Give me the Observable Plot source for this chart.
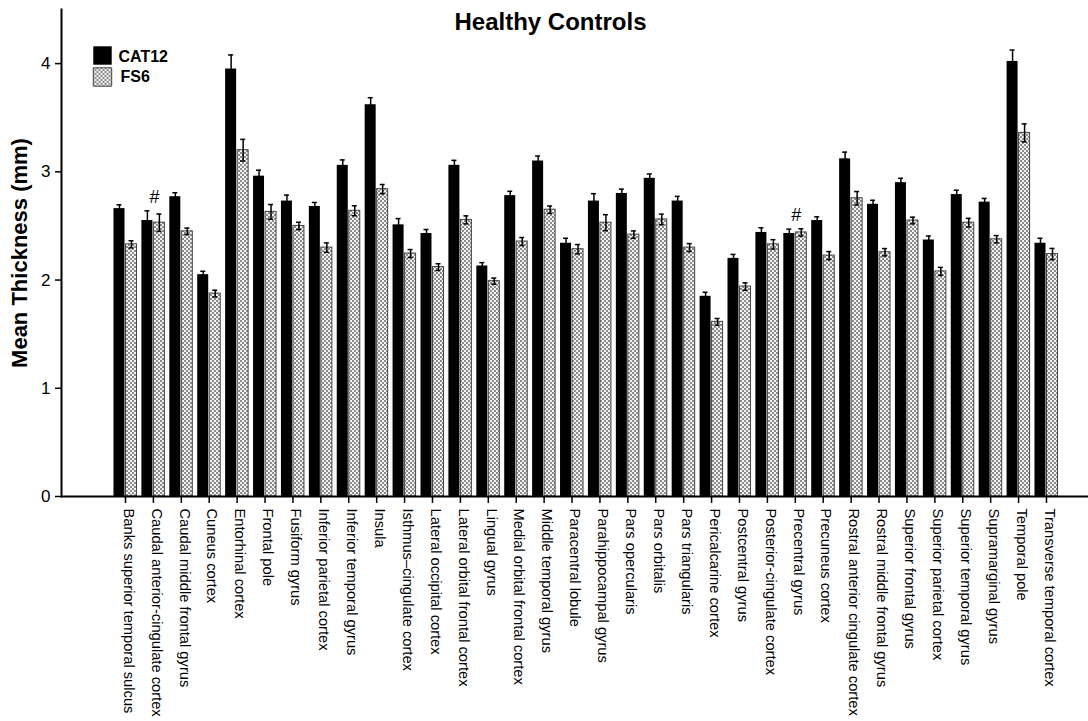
<!DOCTYPE html>
<html>
<head>
<meta charset="utf-8">
<script src="https://cdn.jsdelivr.net/npm/d3@7"></script>
<script src="https://cdn.jsdelivr.net/npm/@observablehq/plot@0.6"></script>
<style>
  html, body { margin: 0; padding: 0; background: #fff; }
  #chart { width: 1088px; height: 721px; }
</style>
</head>
<body>
<div id="chart"></div>
<script>
const regions = [
  "Banks superior temporal sulcus", "Caudal anterior-cingulate cortex", "Caudal middle frontal gyrus",
  "Cuneus cortex", "Entorhinal cortex", "Frontal pole", "Fusiform gyrus", "Inferior parietal cortex",
  "Inferior temporal gyrus", "Insula", "Isthmus–cingulate cortex", "Lateral occipital cortex",
  "Lateral orbital frontal cortex", "Lingual gyrus", "Medial orbital frontal cortex", "Middle temporal gyrus",
  "Paracentral lobule", "Parahippocampal gyrus", "Pars opercularis", "Pars orbitalis", "Pars triangularis",
  "Pericalcarine cortex", "Postcentral gyrus", "Posterior-cingulate cortex", "Precentral gyrus",
  "Precuneus cortex", "Rostral anterior cingulate cortex", "Rostral middle frontal gyrus",
  "Superior frontal gyrus", "Superior parietal cortex", "Superior temporal gyrus", "Supramarginal gyrus",
  "Temporal pole", "Transverse temporal cortex"
];
const cat12 = [2.66, 2.55, 2.77, 2.05, 3.95, 2.96, 2.73, 2.68, 3.06, 3.62, 2.51, 2.43, 3.06, 2.13, 2.78, 3.10, 2.34,
  2.73, 2.80, 2.94, 2.73, 1.85, 2.20, 2.44, 2.43, 2.55, 3.12, 2.70, 2.90, 2.37, 2.79, 2.72, 4.02, 2.34];
const cat12Err = [0.035, 0.09, 0.037, 0.031, 0.13, 0.055, 0.055, 0.037, 0.05, 0.065, 0.058, 0.037, 0.046, 0.031, 0.04,
  0.046, 0.046, 0.068, 0.04, 0.04, 0.043, 0.037, 0.037, 0.043, 0.04, 0.034, 0.062, 0.037, 0.04, 0.037, 0.04, 0.034, 0.105, 0.046];
const fs6 = [2.33, 2.53, 2.45, 1.875, 3.2, 2.63, 2.50, 2.30, 2.64, 2.84, 2.245, 2.12, 2.556, 1.99, 2.356, 2.65, 2.285,
  2.53, 2.42, 2.56, 2.30, 1.614, 1.94, 2.33, 2.44, 2.226, 2.756, 2.257, 2.55, 2.08, 2.53, 2.377, 3.36, 2.24];
const fs6Err = [0.033, 0.08, 0.03, 0.031, 0.1, 0.068, 0.034, 0.043, 0.046, 0.043, 0.037, 0.031, 0.037, 0.028, 0.037,
  0.034, 0.043, 0.074, 0.034, 0.049, 0.037, 0.031, 0.034, 0.043, 0.034, 0.037, 0.062, 0.034, 0.031, 0.037, 0.04, 0.034, 0.083, 0.052];
const markedRegions = ["Caudal anterior-cingulate cortex", "Precentral gyrus"];
const seriesNames = ["CAT12", "FS6"];
const yTicks = [0, 1, 2, 3, 4];
const titleText = "Healthy Controls";
const yLabel = "Mean Thickness (mm)";

const FONT = "'Liberation Sans', Arial, Helvetica, sans-serif";
const catData = regions.map((r, i) => ({region: r, v: cat12[i], e: cat12Err[i]}));
const fsData = regions.map((r, i) => ({region: r, v: fs6[i], e: fs6Err[i]}));
const markData = markedRegions.map(r => {
  const i = regions.indexOf(r);
  return {region: r, top: Math.max(cat12[i] + cat12Err[i], fs6[i] + fs6Err[i])};
});

function build(bw) {
  const half = bw / 2;
  const cap = 2.5;
  return Plot.plot({
    width: 1088, height: 721,
    marginTop: 9, marginBottom: 225, marginLeft: 61, marginRight: 0,
    style: {fontFamily: FONT, background: "#fff", color: "#000", overflow: "visible"},
    x: {domain: regions, paddingInner: 0.14, paddingOuter: 1.469, align: 0.634, axis: null},
    y: {domain: [0, 4.5], axis: null},
    marks: [
      Plot.barY(catData, {x: "region", y1: 0, y2: "v", fill: "#000", insetLeft: 0.5, insetRight: half + 0.5}),
      Plot.barY(fsData, {x: "region", y1: 0, y2: "v", fill: "url(#checker)", stroke: "#444", strokeWidth: 1,
        insetLeft: half + 0.5, insetRight: 0.5}),
      Plot.ruleX(catData, {x: "region", y1: d => d.v - d.e, y2: d => d.v + d.e, dx: -half / 2, stroke: "#000", strokeWidth: 1.5}),
      Plot.ruleX(fsData, {x: "region", y1: d => d.v - d.e, y2: d => d.v + d.e, dx: half / 2, stroke: "#000", strokeWidth: 1.5}),
      Plot.tickY(catData, {x: "region", y: d => d.v + d.e, insetLeft: half / 2 - cap, insetRight: bw - half / 2 - cap, stroke: "#000", strokeWidth: 1.5}),
      Plot.tickY(fsData, {x: "region", y: d => d.v + d.e, insetLeft: half + half / 2 - cap, insetRight: half / 2 - cap, stroke: "#000", strokeWidth: 1.5}),
      Plot.tickY(fsData, {x: "region", y: d => d.v - d.e, insetLeft: half + half / 2 - cap, insetRight: half / 2 - cap, stroke: "#000", strokeWidth: 1.5}),
      Plot.text(markData, {x: "region", y: "top", text: () => "#", dy: -14, dx: 1, fontSize: 18, lineAnchor: "middle", fill: "#000"}),
      Plot.ruleY([0], {stroke: "#000", strokeWidth: 2}),
      Plot.frame({anchor: "left", stroke: "#000", strokeWidth: 2}),
      Plot.axisY({ticks: yTicks, tickFormat: d3.format("d"), tickSize: 6, tickPadding: 5, fontSize: 17, label: null, strokeWidth: 1.5}),
      Plot.axisX({tickSize: 7, tickFormat: () => "", label: null, strokeWidth: 1.5}),
      Plot.axisX({tickSize: 0, tickRotate: 90, tickPadding: 12, dx: 3, fontSize: 14.7, label: null}),
      Plot.text([titleText], {frameAnchor: "top", dy: 13, dx: -24.5, fontSize: 24, fontWeight: "bold", textAnchor: "middle", lineAnchor: "middle"}),
      Plot.text([yLabel], {frameAnchor: "left", rotate: -90, dx: -41.5, fontSize: 22, fontWeight: "bold", textAnchor: "middle", lineAnchor: "middle"}),
      Plot.dot([seriesNames[0]], {frameAnchor: "top-left", dx: 41, dy: 46, symbol: "square", r: 10.4, fill: "#000"}),
      Plot.dot([seriesNames[1]], {frameAnchor: "top-left", dx: 41, dy: 67.5, symbol: "square", r: 10.4, fill: "url(#checker)", stroke: "#444", strokeWidth: 1}),
      Plot.text([seriesNames[0]], {frameAnchor: "top-left", dx: 57, dy: 47.5, fontSize: 16, fontWeight: "bold", textAnchor: "start", lineAnchor: "middle"}),
      Plot.text([seriesNames[1]], {frameAnchor: "top-left", dx: 59, dy: 67, fontSize: 16, fontWeight: "bold", textAnchor: "start", lineAnchor: "middle"})
    ]
  });
}

const probe = build(24);
const bw = probe.scale("x").bandwidth;
const chart = build(bw);

const ns = "http://www.w3.org/2000/svg";
const defs = document.createElementNS(ns, "defs");
const pat = document.createElementNS(ns, "pattern");
pat.setAttribute("id", "checker");
pat.setAttribute("patternUnits", "userSpaceOnUse");
pat.setAttribute("width", "4");
pat.setAttribute("height", "4");
[[0, 0, 4, 4, "#f2f2f2"], [0, 0, 2, 2, "#8c8c8c"], [2, 2, 2, 2, "#8c8c8c"]].forEach(([x, y, w, h, c]) => {
  const r = document.createElementNS(ns, "rect");
  r.setAttribute("x", x); r.setAttribute("y", y);
  r.setAttribute("width", w); r.setAttribute("height", h);
  r.setAttribute("fill", c);
  pat.appendChild(r);
});
defs.appendChild(pat);
chart.insertBefore(defs, chart.firstChild);
document.getElementById("chart").appendChild(chart);
</script>
</body>
</html>
